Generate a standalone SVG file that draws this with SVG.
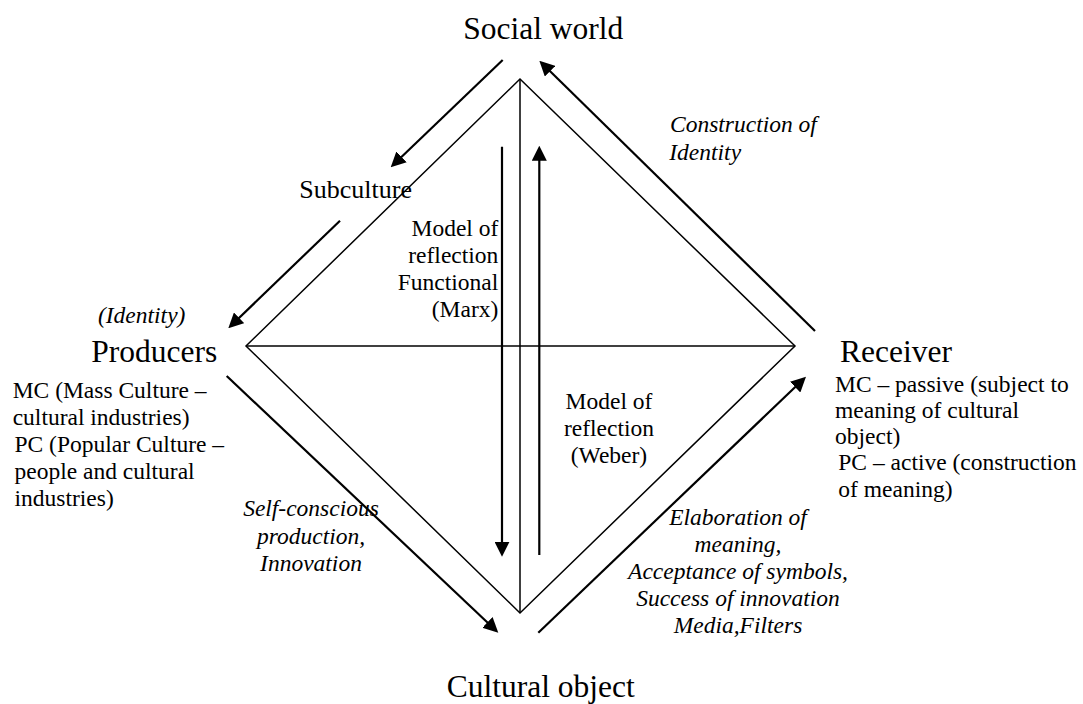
<svg xmlns="http://www.w3.org/2000/svg" width="1083" height="704" viewBox="0 0 1083 704">
<style>
text{font-family:"Liberation Serif","Times New Roman",serif;fill:#000}
.big{font-size:31.5px}
.sm{font-size:23.5px}
.it{font-style:italic}
.mid{text-anchor:middle}
.end{text-anchor:end}
.edge{stroke:#000;stroke-width:1.5;fill:none}
.arr{stroke:#000;stroke-width:2.2;fill:none;marker-end:url(#ah)}
</style>
<defs>
<marker id="ah" markerUnits="userSpaceOnUse" markerWidth="15" markerHeight="15" refX="11" refY="7.5" orient="auto">
<path d="M0,0 L15,7.5 L0,15 z" fill="#000"/>
</marker>
</defs>
<rect width="1083" height="704" fill="#fff"/>
<g id="diamond">
<polygon class="edge" points="520,79 795,346 520,613 246,346"/>
<line class="edge" x1="520" y1="79" x2="520" y2="613"/>
<line class="edge" x1="246" y1="346" x2="795" y2="346"/>
</g>
<g id="connectors">
<line class="arr" x1="502.7" y1="60" x2="393.6" y2="164.5"/>
<line class="arr" x1="340" y1="220.7" x2="231.2" y2="325.5"/>
<line class="arr" x1="226.7" y1="376" x2="495.4" y2="630"/>
<line class="arr" x1="538.3" y1="632.7" x2="803.1" y2="379.5"/>
<line class="arr" x1="815" y1="331" x2="542.2" y2="63.5"/>
<line class="arr" x1="502" y1="146.7" x2="502" y2="552.7"/>
<line class="arr" x1="539.3" y1="555" x2="539.3" y2="149.7"/>
</g>
<g id="social-world"><text class="big mid" x="543.3" y="39.3">Social world</text></g>
<g id="subculture"><text x="299.3" y="197.7" style="font-size:26px">Subculture</text></g>
<g id="producers">
<text class="sm it mid" x="141.7" y="323.3">(Identity)</text>
<text class="big mid" x="154.2" y="361.7">Producers</text>
<text class="sm" x="12.7" y="398">MC (Mass Culture –</text>
<text class="sm" x="12.7" y="425">cultural industries)</text>
<text class="sm" x="14.5" y="452">PC (Popular Culture –</text>
<text class="sm" x="14.5" y="479">people and cultural</text>
<text class="sm" x="14.5" y="506">industries)</text>
</g>
<g id="receiver">
<text class="big" x="840" y="361.7">Receiver</text>
<text class="sm" x="835" y="391.7">MC – passive (subject to</text>
<text class="sm" x="835" y="418">meaning of cultural</text>
<text class="sm" x="835" y="444">object)</text>
<text class="sm" x="838.3" y="470">PC – active (construction</text>
<text class="sm" x="838.3" y="497">of meaning)</text>
</g>
<g id="cultural-object"><text class="big mid" x="540.8" y="697">Cultural object</text></g>
<g id="marx-label">
<text class="sm end" x="498.3" y="236">Model of</text>
<text class="sm end" x="498.3" y="263">reflection</text>
<text class="sm end" x="498.3" y="290">Functional</text>
<text class="sm end" x="498.3" y="317">(Marx)</text>
</g>
<g id="weber-label">
<text class="sm mid" x="609" y="409">Model of</text>
<text class="sm mid" x="609" y="436">reflection</text>
<text class="sm mid" x="609" y="463">(Weber)</text>
</g>
<g id="identity-label">
<text class="sm it" x="670" y="132">Construction of</text>
<text class="sm it" x="669.3" y="160">Identity</text>
</g>
<g id="production-label">
<text class="sm it mid" x="311" y="516">Self-conscious</text>
<text class="sm it mid" x="311" y="543.5">production,</text>
<text class="sm it mid" x="311" y="571">Innovation</text>
</g>
<g id="elaboration-label">
<text class="sm it mid" x="738" y="525">Elaboration of</text>
<text class="sm it mid" x="738" y="552">meaning,</text>
<text class="sm it mid" x="738" y="579">Acceptance of symbols,</text>
<text class="sm it mid" x="738" y="606">Success of innovation</text>
<text class="sm it mid" x="738" y="633">Media,Filters</text>
</g>
</svg>
